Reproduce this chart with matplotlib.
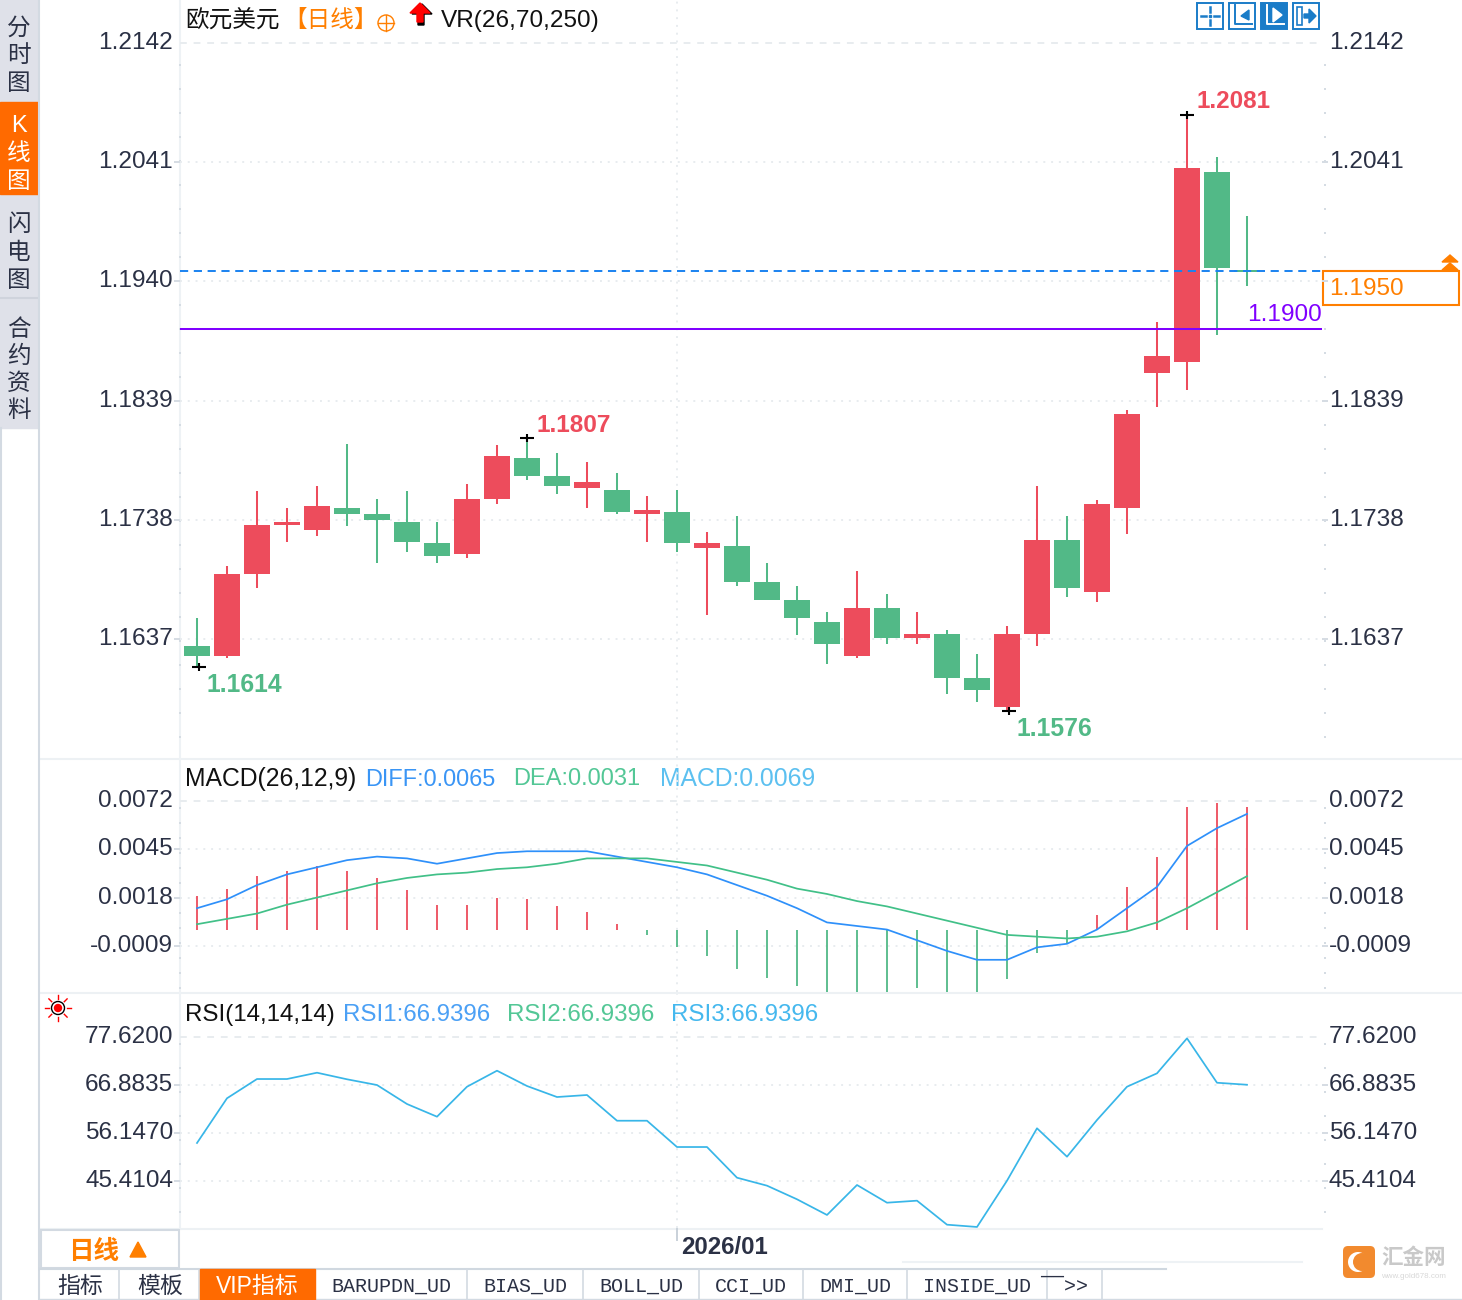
import matplotlib
matplotlib.use('Agg')
import matplotlib.pyplot as plt
import matplotlib.transforms as mtrans
from matplotlib.patches import Rectangle, Polygon, Circle, FancyBboxPatch

plt.rcParams['font.family'] = ['Liberation Sans', 'Noto Sans CJK SC', 'DejaVu Sans']

# velas diarias
opens = [1.1631, 1.1623, 1.1692, 1.1734, 1.1729, 1.1748, 1.1743, 1.1736, 1.1718, 1.1709, 1.1756, 1.1790,
         1.1775, 1.1765, 1.1763, 1.1743, 1.1745, 1.1714, 1.1716, 1.1685, 1.1670, 1.1651, 1.1623, 1.1663,
         1.1638, 1.1641, 1.1604, 1.1579, 1.1641, 1.1721, 1.1677, 1.1748, 1.1862, 1.1872, 1.2033, 1.1950]
closes = [1.1623, 1.1692, 1.1734, 1.1736, 1.1750, 1.1743, 1.1738, 1.1719, 1.1707, 1.1756, 1.1792, 1.1775,
          1.1767, 1.1770, 1.1745, 1.1746, 1.1718, 1.1718, 1.1685, 1.1670, 1.1655, 1.1633, 1.1663, 1.1638,
          1.1641, 1.1604, 1.1594, 1.1641, 1.1721, 1.1680, 1.1751, 1.1828, 1.1877, 1.2036, 1.1951, 1.1948]
highs = [1.1655, 1.1699, 1.1762, 1.1748, 1.1767, 1.1802, 1.1756, 1.1762, 1.1736, 1.1768, 1.1801, 1.1807,
         1.1795, 1.1787, 1.1778, 1.1758, 1.1763, 1.1728, 1.1741, 1.1701, 1.1682, 1.1660, 1.1695, 1.1675,
         1.1660, 1.1645, 1.1624, 1.1648, 1.1767, 1.1741, 1.1755, 1.1831, 1.1906, 1.2081, 1.2045, 1.1995]
lows = [1.1613, 1.1621, 1.1680, 1.1719, 1.1724, 1.1733, 1.1701, 1.1711, 1.1701, 1.1706, 1.1751, 1.1772,
        1.1760, 1.1748, 1.1743, 1.1719, 1.1711, 1.1657, 1.1682, 1.1670, 1.1640, 1.1616, 1.1621, 1.1633,
        1.1633, 1.1590, 1.1584, 1.1576, 1.1631, 1.1673, 1.1668, 1.1726, 1.1834, 1.1848, 1.1895, 1.1936]
price_ticks = [1.2142, 1.2041, 1.1940, 1.1839, 1.1738, 1.1637]
price_labels = ['1.2142', '1.2041', '1.1940', '1.1839', '1.1738', '1.1637']
last_price = 1.1949
ref_price = 1.1900

diff = [0.0012, 0.0017, 0.0025, 0.0031, 0.0035, 0.0039, 0.0041, 0.0040, 0.0037, 0.0040, 0.0043, 0.0044,
        0.0044, 0.0044, 0.0041, 0.0038, 0.0035, 0.0031, 0.0025, 0.0019, 0.0012, 0.0004, 0.0002, 0.0000,
        -0.0006, -0.0012, -0.0017, -0.0017, -0.0010, -0.0008, 0.0000, 0.0012, 0.0024, 0.0047, 0.0057, 0.0065]
dea = [0.0003, 0.0006, 0.0009, 0.0014, 0.0018, 0.0022, 0.0026, 0.0029, 0.0031, 0.0032, 0.0034, 0.0035,
       0.0037, 0.0040, 0.0040, 0.0040, 0.0038, 0.0036, 0.0032, 0.0028, 0.0023, 0.0020, 0.0016, 0.0013,
       0.0009, 0.0005, 0.0001, -0.0003, -0.0004, -0.0005, -0.0004, -0.0001, 0.0004, 0.0012, 0.0021, 0.0030]
macd = [0.0019, 0.0023, 0.0030, 0.0033, 0.0036, 0.0033, 0.0029, 0.0022, 0.0014, 0.0014, 0.0018, 0.0017,
        0.0013, 0.0010, 0.0003, -0.0003, -0.0010, -0.0015, -0.0022, -0.0027, -0.0032, -0.0037, -0.0037, -0.0037,
        -0.0033, -0.0037, -0.0037, -0.0028, -0.0013, -0.0008, 0.0008, 0.0024, 0.0041, 0.0069, 0.0071, 0.0069]
macd_ticks = [0.0072, 0.0045, 0.0018, -0.0009]
macd_labels = ['0.0072', '0.0045', '0.0018', '-0.0009']

rsi = [53.94, 63.92, 68.22, 68.22, 69.63, 68.16, 66.88, 62.64, 59.81, 66.50, 70.08, 66.66,
       64.20, 64.65, 58.91, 58.91, 53.04, 53.04, 46.19, 44.41, 41.37, 37.87, 44.56, 40.61,
       41.06, 35.70, 35.19, 45.52, 57.22, 50.88, 59.07, 66.50, 69.49, 77.30, 67.39, 66.94]
rsi_ticks = [77.62, 66.8835, 56.147, 45.4104]
rsi_labels = ['77.6200', '66.8835', '56.1470', '45.4104']

month_index = 16
month_label = '2026/01'

RED = '#ed4c5c'
GREEN = '#52b987'
ORANGE = '#ff7f00'
INK = '#2b3145'
GRID = '#e8ecef'
W, H = 1462, 1300

fig = plt.figure(figsize=(W / 100, H / 100), dpi=100, facecolor='white')


def pane(left, top, right, bottom):
    ax = fig.add_axes([left / W, 1 - bottom / H, (right - left) / W, (bottom - top) / H])
    ax.patch.set_visible(False)
    for s in ax.spines.values():
        s.set_visible(False)
    return ax


# capa en pixeles para todo lo que no son datos
bg = pane(0, 0, W, H)
bg.set_xlim(0, W)
bg.set_ylim(H, 0)
bg.axis('off')


def label(x, y, s, color=INK, size=17.6, ha='left', **kw):
    bg.text(x, y + 2, s, color=color, fontsize=size, ha=ha, va='center', zorder=6, **kw)


def style_pane(ax, ticks, labels, ylim):
    ax.set_xlim((180 - 197) / 30, (1322 - 197) / 30)
    ax.set_ylim(*ylim)
    ax.set_xticks([])
    ax.set_yticks(ticks, labels)
    ax.tick_params(axis='y', left=True, right=True, labelleft=True, labelright=True, length=4.3, width=1.4,
                   color='#d5dce3', pad=0.7, labelsize=17.6, labelcolor=INK)
    ax.grid(axis='y', color=GRID, ls=(0, (1, 3)), lw=1.4)
    ax.get_ygridlines()[0].set_linestyle((0, (3.5, 3.5)))
    ax.set_axisbelow(True)
    shift = mtrans.ScaledTranslation(0, 2.5 / 100, fig.dpi_scale_trans)
    for i, t in enumerate(ax.yaxis.get_major_ticks()):
        t.label1.set_transform(t.label1.get_transform() + shift)
        t.label2.set_transform(t.label2.get_transform() + shift)
        if i == 0:
            t.tick1line.set_visible(False)
            t.tick2line.set_visible(False)
    ax.axvline(month_index, color=GRID, ls=(0, (1, 3)), lw=1.4, zorder=0)


# panel principal
ax = pane(180, 0, 1322, 758)
style_pane(ax, price_ticks, price_labels, (1.15362, 1.21784))
# la etiqueta derecha de 1.1940 queda tapada por la caja del ultimo precio
ax.yaxis.get_major_ticks()[2].label2.set_visible(False)
for i in range(len(opens)):
    color = RED if closes[i] > opens[i] else GREEN
    ax.vlines(i, lows[i], highs[i], color=color, lw=1.45, zorder=3)
    ax.bar(i, abs(closes[i] - opens[i]), bottom=min(opens[i], closes[i]), width=26 / 30, color=color, zorder=4)
ax.axhline(last_price, color='#1a82f0', lw=1.4, ls=(0, (4.2, 2.9)), zorder=5)
ax.axhline(ref_price, color='#8000ff', lw=1.45, zorder=5)
for i in [0, 11, 27, 33]:
    val = lows[i] if i in (0, 27) else highs[i]
    ax.plot(i + (0.07 if i in (0, 27) else 0), val, marker='_', ms=10, mew=1.5, color='black', zorder=6)
    ax.plot(i + (0.07 if i in (0, 27) else 0), val, marker='|', ms=6, mew=1.5, color='black', zorder=6)

# panel MACD
ax2 = pane(180, 760, 1322, 992)
style_pane(ax2, macd_ticks, macd_labels, (-0.00351, 0.00953))
ax2.vlines(range(len(macd)), 0, macd, colors=[RED if v > 0 else GREEN for v in macd], lw=1.3, zorder=3)
ax2.plot(diff, color='#2e90fa', lw=1.25, zorder=4)
ax2.plot(dea, color='#41c088', lw=1.25, zorder=4)

# panel RSI
ax3 = pane(180, 994, 1322, 1228)
style_pane(ax3, rsi_ticks, rsi_labels, (34.96, 87.2))
ax3.plot(rsi, color='#38b6e8', lw=1.25, zorder=4)

# etiquetas del panel principal
label(185, 19, '欧元美元', color='#111111', size=17)
label(283, 19, '【日线】', color=ORANGE, size=17)
bg.add_patch(Circle((386, 23), 8, fill=False, ec=ORANGE, lw=1, zorder=5))
bg.plot([378, 394], [23, 23], color=ORANGE, lw=1, zorder=5)
bg.plot([386, 386], [15, 31], color=ORANGE, lw=1, zorder=5)
bg.add_patch(Polygon([(424, 25), (424, 14), (432, 14), (422, 4), (412, 14), (418, 14), (418, 25)], color='black', zorder=5))
bg.add_patch(Polygon([(423, 22), (423, 13), (430, 13), (420, 3), (410, 13), (417, 13), (417, 22)], color='#ff0000', zorder=6))
label(441, 19, 'VR(26,70,250)', color='#111111')
label(1197, 99, '1.2081', color=RED, weight='bold', size=17.5)
label(537, 423, '1.1807', color=RED, weight='bold', size=17.6)
label(207, 683, '1.1614', color=GREEN, weight='bold', size=17.8)
label(1017, 727, '1.1576', color=GREEN, weight='bold', size=17.8)
label(1322, 313, '1.1900', color='#8000ff', ha='right')
bg.add_patch(Rectangle((1323, 271), 136, 34, fill=False, ec=ORANGE, lw=1.5, zorder=5))
label(1329, 287, '1.1950', color=ORANGE)
bg.add_patch(Polygon([(1442, 262), (1450, 255), (1458, 262)], color=ORANGE, zorder=5))
bg.add_patch(Polygon([(1442, 270), (1450, 263), (1458, 270)], color=ORANGE, zorder=5))

# botones de arriba a la derecha
for bx, filled in [(1197, False), (1229, False), (1261, True), (1293, False)]:
    fc = '#1a7cc8' if filled else 'white'
    ink = 'white' if filled else '#1a7cc8'
    bg.add_patch(Rectangle((bx, 3), 26, 26, fc=fc, ec='#1a7cc8', lw=1.4, zorder=5))
    if bx == 1197:
        bg.plot([bx + 13, bx + 13], [7, 12], color=ink, lw=1.8, zorder=6)
        bg.plot([bx + 13, bx + 13], [20, 25], color=ink, lw=1.8, zorder=6)
        bg.plot([bx + 4, bx + 9], [16, 16], color=ink, lw=1.8, zorder=6)
        bg.plot([bx + 17, bx + 22], [16, 16], color=ink, lw=1.8, zorder=6)
        bg.add_patch(Rectangle((bx + 12, 15), 2, 2, color=ink, zorder=6))
    elif bx == 1293:
        bg.add_patch(Rectangle((bx + 4, 7), 5, 18, fill=False, ec=ink, lw=1.2, zorder=6))
        bg.add_patch(Polygon([(bx + 11, 14), (bx + 16, 14), (bx + 16, 9), (bx + 23, 16), (bx + 16, 23), (bx + 16, 18), (bx + 11, 18)], color=ink, zorder=6))
    else:
        bg.plot([bx + 6, bx + 6, bx + 23], [5, 24, 24], color=ink, lw=1.4, zorder=6)
        tip = [(bx + 12, 16), (bx + 20, 10), (bx + 20, 20)] if not filled else [(bx + 21, 15), (bx + 12, 8), (bx + 12, 22)]
        bg.add_patch(Polygon(tip, color=ink, zorder=6))

# cabeceras de los indicadores
label(185, 777, 'MACD(26,12,9)', color='#111111', size=17.8)
label(365, 777, 'DIFF:0.0065', color='#3a95f5', size=16.9)
label(513, 777, 'DEA:0.0031', color='#53c796', size=17)
label(660, 777, 'MACD:0.0069', color='#5cc0f0', size=17.8)
label(185, 1013, 'RSI(14,14,14)', color='#111111', size=17.4)
label(343, 1013, 'RSI1:66.9396', color='#4ba0f5', size=17.4)
label(507, 1013, 'RSI2:66.9396', color='#53c796', size=17.4)
label(671, 1013, 'RSI3:66.9396', color='#45b8ee', size=17.4)

# icono sol
bg.add_patch(Circle((58, 1008), 6.5, fill=False, ec='black', lw=1, zorder=5))
bg.add_patch(Circle((58, 1008), 3.5, color='#ff0000', zorder=6))
for dx, dy in [(0, -1), (0, 1), (-1, 0), (1, 0), (-0.7, -0.7), (0.7, -0.7), (-0.7, 0.7), (0.7, 0.7)]:
    bg.plot([58 + 9 * dx, 58 + 13 * dx], [1008 + 9 * dy, 1008 + 13 * dy], color='#ff0000', lw=1, zorder=5)

# separadores y marcas de los ejes
for y in [759, 993, 1229]:
    bg.plot([40, W if y != 1229 else 1322], [y, y], color='#edf1f4', lw=1.5, zorder=1)
bg.plot([180, 180], [0, 1229], color='#eef2f5', lw=1.5, zorder=1)
for y0, y1, step in [(65, 750, 24), (808, 990, 15), (1044, 1222, 24)]:
    ys = list(range(y0, y1, step))
    bg.scatter([1325] * len(ys), ys, s=3, marker='s', color='#d5dce3', zorder=1, linewidths=0)
    bg.scatter([180] * len(ys), ys, s=3, marker='s', color='#d5dce3', zorder=1, linewidths=0)

# barra lateral
bg.add_patch(Rectangle((0, 0), 38, 428, color='#dfe1e9', zorder=1))
bg.add_patch(Rectangle((0, 102), 38, 92, color='#ff6a00', zorder=2))
bg.plot([0, 38], [298, 298], color='#cfd3dc', lw=1.5, zorder=2)
bg.plot([39, 39], [0, 1300], color='#d3dae2', lw=1.5, zorder=2)
bg.plot([1, 1], [428, 1300], color='#d3dae2', lw=1.5, zorder=2)
side = [('分', 27), ('时', 54), ('图', 82), ('闪', 223), ('电', 251), ('图', 279),
        ('合', 328), ('约', 355), ('资', 382), ('料', 409)]
for ch, y in side:
    label(19, y, ch, color='#2b3145', size=17, ha='center')
for ch, y in [('K', 124), ('线', 152), ('图', 180)]:
    label(19, y, ch, color='white', size=17, ha='center')

# pie
bg.add_patch(Rectangle((41, 1230), 138, 38, fc='white', ec='#d3dae2', lw=1.5, zorder=2))
label(68, 1250, '日线', color=ORANGE, size=18.4, weight='bold')
bg.add_patch(Polygon([(130, 1257), (138, 1242), (146, 1257)], color=ORANGE, zorder=5))
bg.plot([677, 677], [1229, 1240], color='#c9d1d9', lw=1.4, zorder=2)
label(681, 1245, month_label, size=17.3, weight='bold')
bg.plot([40, 1166], [1269, 1269], color='#d0d8e0', lw=1.5, zorder=2)
bg.plot([903, 1302], [1262, 1262], color='#eef2f5', lw=1.5, zorder=2)
bg.add_patch(Rectangle((200, 1269), 115, 31, color='#ff6a00', zorder=3))
label(80, 1284, '指标', size=16.5, ha='center')
label(160, 1284, '模板', size=16.5, ha='center')
label(257, 1284, 'VIP指标', color='white', size=16.5, ha='center')
tabs = [('BARUPDN_UD', 391), ('BIAS_UD', 525), ('BOLL_UD', 641), ('CCI_UD', 751), ('DMI_UD', 855), ('INSIDE_UD', 977)]
for s, x in tabs:
    label(x, 1284, s, size=14.4, ha='center', family=['Liberation Mono'])
label(1064, 1284, '‾‾>>', size=14.4, ha='center', family=['Liberation Mono'])
for x in [119, 199, 315, 467, 583, 699, 803, 907, 1047, 1102]:
    bg.plot([x, x], [1270, 1300], color='#d3dae2', lw=1.2, zorder=2)
bg.plot([40, 1462], [1299, 1299], color='#d3dae2', lw=1, zorder=2)

# marca de agua
bg.add_patch(FancyBboxPatch((1344, 1247), 30, 30, boxstyle='round,pad=1,rounding_size=5', fc='#f28a2e', ec='none', zorder=5))
bg.add_patch(Circle((1358, 1262), 10, fc='white', zorder=6))
bg.add_patch(Circle((1362, 1262), 9, fc='#f28a2e', zorder=7))
label(1381, 1257, '汇金网', color='#c9c9c9', size=15.5, weight='bold')
label(1381, 1274, 'www.gold678.com', color='#d8d8d8', size=5.8)

fig.savefig('out.png', dpi=100)
